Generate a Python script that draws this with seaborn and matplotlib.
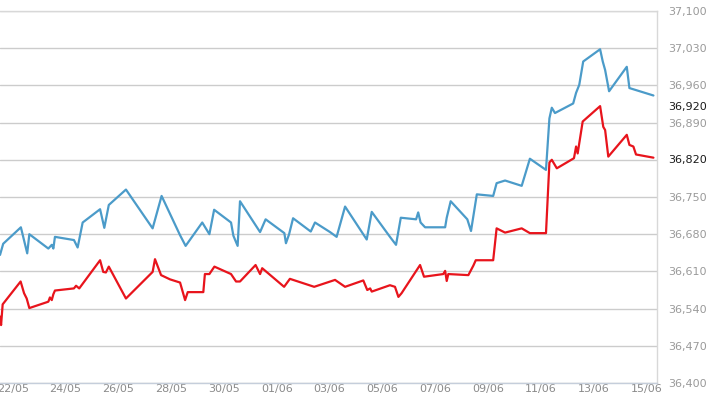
import numpy as np
import pandas as pd
import matplotlib
matplotlib.use("Agg")
import matplotlib.pyplot as plt
import seaborn as sns

# x = days since 22/05
blue_days = [-0.48, -0.36, 0.31, 0.55, 0.63, 1.35, 1.48, 1.54, 1.60, 2.32, 2.46, 2.65,
             3.31, 3.47, 3.64, 4.29, 5.30, 5.64, 6.34, 6.55, 7.18, 7.45, 7.63, 8.27,
             8.36, 8.52, 8.61, 9.37, 9.58, 10.29, 10.35, 10.47, 10.62, 11.29, 11.45,
             12.02, 12.27, 12.59, 13.41, 13.60, 14.29, 14.52, 14.70, 15.28, 15.36,
             15.45, 15.62, 16.38, 16.44, 16.59, 17.22, 17.36, 17.58, 18.20, 18.33,
             18.65, 19.28, 19.59, 20.20, 20.33, 20.42, 20.54, 21.23, 21.34, 21.46,
             21.61, 22.25, 22.35, 22.44, 22.59, 23.26, 23.36, 24.27]
blue_vals = [36641, 36662, 36693, 36644, 36680, 36653, 36660, 36653, 36675, 36669, 36655, 36702,
             36727, 36692, 36735, 36764, 36691, 36752, 36678, 36658, 36702, 36680, 36726, 36702,
             36677, 36658, 36742, 36684, 36708, 36682, 36663, 36680, 36710, 36685, 36702,
             36684, 36675, 36732, 36670, 36722, 36675, 36660, 36711, 36708, 36721,
             36702, 36693, 36693, 36711, 36742, 36708, 36686, 36755, 36752, 36776,
             36781, 36771, 36822, 36801, 36898, 36918, 36908, 36926, 36946, 36961,
             37005, 37028, 37005, 36989, 36949, 36995, 36955, 36941]

red_days = [-0.48, -0.44, -0.38, 0.30, 0.43, 0.53, 0.63, 1.35, 1.41, 1.48, 1.54, 1.60,
            2.32, 2.40, 2.52, 3.31, 3.43, 3.53, 3.64, 4.29, 5.30, 5.39, 5.62, 5.96,
            6.34, 6.53, 6.63, 7.22, 7.28, 7.45, 7.64, 8.27, 8.46, 8.61, 9.20, 9.37,
            9.45, 10.28, 10.50, 11.42, 12.21, 12.59, 13.28, 13.43, 13.54, 13.60, 14.29,
            14.48, 14.61, 14.73, 15.43, 15.58, 16.31, 16.38, 16.44, 16.50, 17.26, 17.45,
            17.54, 18.20, 18.33, 18.65, 19.28, 19.59, 20.20, 20.33, 20.42, 20.61, 21.26,
            21.34, 21.40, 21.59, 22.25, 22.37, 22.44, 22.56, 23.26, 23.36, 23.51, 23.61,
            24.27]
red_vals = [36525, 36509, 36548, 36591, 36569, 36559, 36541, 36553, 36561, 36556, 36567, 36574,
            36578, 36583, 36578, 36631, 36609, 36608, 36619, 36559, 36609, 36633, 36603, 36595,
            36589, 36556, 36571, 36571, 36605, 36605, 36619, 36605, 36591, 36591, 36622, 36605,
            36616, 36581, 36596, 36581, 36594, 36581, 36593, 36575, 36578, 36572, 36584,
            36581, 36562, 36569, 36622, 36600, 36605, 36611, 36592, 36605, 36603, 36621,
            36631, 36631, 36691, 36683, 36691, 36682, 36682, 36815, 36820, 36804, 36823,
            36845, 36832, 36892, 36921, 36882, 36876, 36826, 36867, 36848, 36845, 36830,
            36824]

x_tick_labels = ["22/05", "24/05", "26/05", "28/05", "30/05", "01/06", "03/06",
                 "05/06", "07/06", "09/06", "11/06", "13/06", "15/06"]
y_ticks = [36400, 36470, 36540, 36610, 36680, 36750, 36820, 36890, 36960, 37030, 37100]
current_labels = [36920, 36820]

series_names = ["blue", "red"]
colors = {"blue": "#4b9bc9", "red": "#e8141c"}

df = pd.concat([
    pd.DataFrame({"day": blue_days, "value": blue_vals, "series": "blue"}),
    pd.DataFrame({"day": red_days, "value": red_vals, "series": "red"}),
], ignore_index=True)

sns.set_theme(style="white")
plt.rcParams["font.family"] = ["DejaVu Sans"]

fig = plt.figure(figsize=(7.10, 3.99), dpi=100)
ax = fig.add_axes([0.0, 1 - 383 / 399, 657 / 710, (383 - 11) / 399])

sns.lineplot(data=df, x="day", y="value", hue="series", palette=colors,
             hue_order=series_names, estimator=None, sort=False, linewidth=1.6,
             legend=False, ax=ax)

ax.set_xlim(-0.481, 24.405)
ax.set_ylim(36400, 37100)

ax.set_yticks(y_ticks)
ax.set_yticklabels([f"{v:,}" for v in y_ticks])
ax.yaxis.tick_right()
ax.tick_params(axis="y", which="both", length=0, pad=8, labelsize=8, labelcolor="#9a9a9a")
ax.grid(axis="y", color="#cccccc", linewidth=1.0)
ax.grid(axis="x", visible=False)

ax.set_xticks([2 * i for i in range(len(x_tick_labels))])
ax.set_xticklabels(x_tick_labels)
ax.tick_params(axis="x", direction="out", length=7, width=0.8, color="#cfd6e0",
               pad=-6, labelsize=8, labelcolor="#8a8a8a")

ax.set_xlabel("")
ax.set_ylabel("")

for side in ["left"]:
    ax.spines[side].set_visible(False)
ax.spines["top"].set_visible(True)
ax.spines["top"].set_color("#d8d8d8")
ax.spines["right"].set_color("#d8d8d8")
ax.spines["bottom"].set_color("#c5cedb")
for s in ["top", "right", "bottom"]:
    ax.spines[s].set_linewidth(1.0)

for lbl in ax.get_yticklabels():
    if lbl.get_text() == "36,820":
        lbl.set_visible(False)

for v in current_labels:
    ax.annotate(f"{v:,}", xy=(1, v), xycoords=("axes fraction", "data"),
                xytext=(8, 0), textcoords="offset points", va="center", ha="left",
                fontsize=8, color="#1a1a1a")

fig.savefig("out.png", dpi=100)
